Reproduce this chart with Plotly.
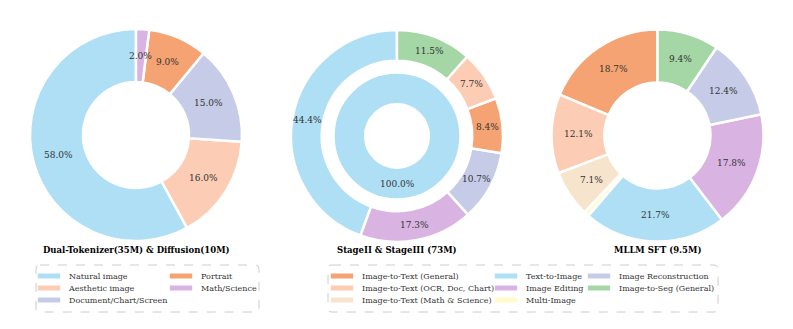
import math
import plotly.graph_objects as go

W, H = 793, 329

# colours shared by the three charts
C_BLUE = '#AEDFF5'
C_PEACH = '#FCCDB4'
C_LAV = '#C6CBE8'
C_ORANGE = '#F5A372'
C_PURPLE = '#D9B4E2'
C_GREEN = '#A5D6A5'
C_BEIGE = '#F7E4CD'
C_YELLOW = '#FFFBCB'

# chart 1: Dual-Tokenizer & Diffusion (counter-clockwise from 12 o'clock)
pre_labels = ['Natural image', 'Aesthetic image', 'Document/Chart/Screen', 'Portrait', 'Math/Science']
pre_values = [58.0, 16.0, 15.0, 9.0, 2.0]
pre_colors = [C_BLUE, C_PEACH, C_LAV, C_ORANGE, C_PURPLE]

# chart 2: StageII & StageIII (outer ring + inner total)
stage_labels = ['Text-to-Image', 'Image Editing', 'Image Reconstruction',
                'Image-to-Text (General)', 'Image-to-Text (OCR, Doc, Chart)', 'Image-to-Seg (General)']
stage_values = [44.4, 17.3, 10.7, 8.4, 7.7, 11.5]
stage_colors = [C_BLUE, C_PURPLE, C_LAV, C_ORANGE, C_PEACH, C_GREEN]
stage_total = [100.0]

# chart 3: MLLM SFT
sft_labels = ['Image-to-Text (General)', 'Image-to-Text (OCR, Doc, Chart)', 'Image-to-Text (Math & Science)',
              'Multi-Image', 'Text-to-Image', 'Image Editing', 'Image Reconstruction', 'Image-to-Seg (General)']
sft_values = [18.7, 12.1, 7.1, 0.8, 21.7, 17.8, 12.4, 9.4]
sft_colors = [C_ORANGE, C_PEACH, C_BEIGE, C_YELLOW, C_BLUE, C_PURPLE, C_LAV, C_GREEN]

titles = ['Dual-Tokenizer(35M) & Diffusion(10M)', 'StageII & StageIII (73M)', 'MLLM SFT (9.5M)']

# legend rows (columns filled top to bottom like matplotlib ncol)
legend1_rows = [['Natural image', 'Portrait'],
                ['Aesthetic image', 'Math/Science'],
                ['Document/Chart/Screen']]
legend2_rows = [['Image-to-Text (General)', 'Text-to-Image', 'Image Reconstruction'],
                ['Image-to-Text (OCR, Doc, Chart)', 'Image Editing', 'Image-to-Seg (General)'],
                ['Image-to-Text (Math & Science)', 'Multi-Image']]
legend_colors = {
    'Natural image': C_BLUE, 'Aesthetic image': C_PEACH, 'Document/Chart/Screen': C_LAV,
    'Portrait': C_ORANGE, 'Math/Science': C_PURPLE,
    'Image-to-Text (General)': C_ORANGE, 'Image-to-Text (OCR, Doc, Chart)': C_PEACH,
    'Image-to-Text (Math & Science)': C_BEIGE, 'Text-to-Image': C_BLUE, 'Image Editing': C_PURPLE,
    'Multi-Image': C_YELLOW, 'Image Reconstruction': C_LAV, 'Image-to-Seg (General)': C_GREEN,
}

SERIF = 'DejaVu Serif'
TXT = '#333333'
annotations = []


def dom(cx, cy, r):
    return dict(x=[(cx - r) / W, (cx + r) / W], y=[1 - (cy + r) / H, 1 - (cy - r) / H])


def donut(labels, values, colors, cx, cy, r, hole):
    total = sum(values)
    # plotly's counterclockwise pie puts the first slice clockwise of the start
    # angle, so rotate back by that slice to start it at 12 o'clock
    rot = -360.0 * values[0] / total
    if rot <= -360:
        rot = 0
    # percent labels sit in the middle of the ring at each slice's mid angle
    # (plotly's own inside text drifts in thin or wide ring slices); < 1% unlabelled
    start = 0.0
    rm = r * (1 + hole) / 2
    for v in values:
        share = v / total
        if share >= 0.01:
            ang = math.radians(360 * (start + share / 2))
            annotations.append(dict(
                text=f'{share:.1%}', x=(cx - rm * math.sin(ang)) / W, y=1 - (cy - rm * math.cos(ang)) / H,
                xref='paper', yref='paper', showarrow=False, xanchor='center', yanchor='middle',
                font=dict(family=SERIF, size=9, color=TXT)))
        start += share
    return go.Pie(
        labels=labels, values=values, sort=False, direction='counterclockwise', rotation=rot,
        hole=hole, domain=dom(cx, cy, r), showlegend=False,
        marker=dict(colors=colors, line=dict(color='white', width=2.5)),
        textinfo='none', hoverinfo='label+percent',
    )


fig = go.Figure()
fig.add_trace(donut(pre_labels, pre_values, pre_colors, 136, 135, 106, 0.5))
fig.add_trace(donut(stage_labels, stage_values, stage_colors, 397, 136, 106, 0.71))
fig.add_trace(donut(['Total'], stage_total, [C_BLUE], 397, 136, 63.5, 0.5))
fig.add_trace(donut(sft_labels, sft_values, sft_colors, 657.5, 135.5, 106, 0.5))

# each legend row is its own horizontal legend so the rows can sit close together
row_y = [276, 288, 300]
leg_style = dict(font=dict(family=SERIF, size=8, color=TXT), bgcolor='rgba(0,0,0,0)',
                 orientation='h', xanchor='left', yanchor='middle', itemclick=False,
                 itemdoubleclick=False, entrywidthmode='pixels')
legends = {}
n = 0
for rows, left, widths in [(legend1_rows, 29, [87]), (legend2_rows, 322, [119, 48])]:
    for ry, row in zip(row_y, rows):
        n += 1
        key = 'legend' if n == 1 else f'legend{n}'
        legends[key] = dict(x=left / W, y=1 - ry / H, **leg_style)
        for i, lab in enumerate(row):
            c = legend_colors[lab]
            # column pitch for all but the last entry of a row (the last keeps its text width)
            lw = widths[i] if i < len(row) - 1 else None
            fig.add_trace(go.Scatter(
                x=[None], y=[None], mode='markers', name=lab, legend=key, legendwidth=lw,
                marker=dict(symbol='line-ew', size=17, color=c, line=dict(width=6, color=c)),
            ))


def rounded_box(x0, y0, x1, y1, rad=4):
    def px(x):
        return x / W

    def py(y):
        return 1 - y / H
    return (f'M {px(x0 + rad)} {py(y0)} L {px(x1 - rad)} {py(y0)} '
            f'Q {px(x1)} {py(y0)} {px(x1)} {py(y0 + rad)} L {px(x1)} {py(y1 - rad)} '
            f'Q {px(x1)} {py(y1)} {px(x1 - rad)} {py(y1)} L {px(x0 + rad)} {py(y1)} '
            f'Q {px(x0)} {py(y1)} {px(x0)} {py(y1 - rad)} L {px(x0)} {py(y0 + rad)} '
            f'Q {px(x0)} {py(y0)} {px(x0 + rad)} {py(y0)} Z')


shapes = [
    dict(type='path', xref='paper', yref='paper', path=rounded_box(36, 265, 259, 312),
         line=dict(color='#CCCCCC', width=1, dash='dash')),
    dict(type='path', xref='paper', yref='paper', path=rounded_box(328, 265, 718, 312),
         line=dict(color='#CCCCCC', width=1, dash='dash')),
]

for t, cx in zip(titles, [136, 397, 657]):
    annotations.append(dict(text=f'<b>{t}</b>', x=cx / W, y=1 - 250 / H, xref='paper', yref='paper',
                            showarrow=False, xanchor='center', yanchor='middle',
                            font=dict(family=SERIF, size=8.5, color='black')))

fig.update_layout(
    width=W, height=H, margin=dict(l=0, r=0, t=0, b=0),
    paper_bgcolor='white', plot_bgcolor='white',
    xaxis=dict(visible=False), yaxis=dict(visible=False),
    shapes=shapes, annotations=annotations, showlegend=True,
    **legends,
)

fig.write_html('out.html', config={'displayModeBar': False},
               post_script="document.body.style.margin = '0';")
